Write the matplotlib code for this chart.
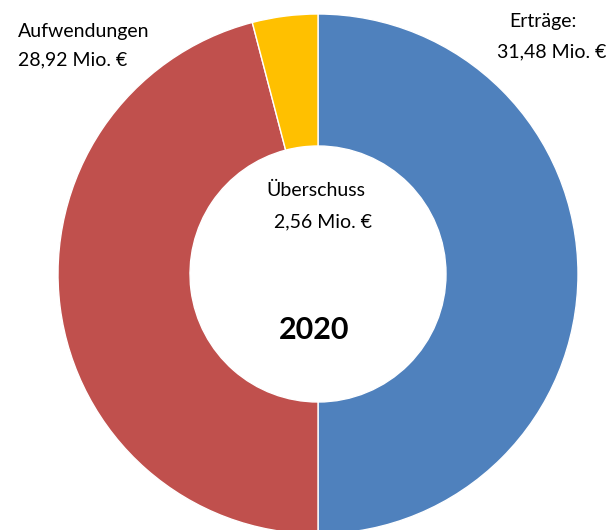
import matplotlib.pyplot as plt

labels = ['Erträge', 'Aufwendungen', 'Überschuss']
werte = [31.48, 28.92, 2.56]
farben = ['#4F81BD', '#C0504D', '#FFC000']

plt.rcParams['font.family'] = ['Lato', 'DejaVu Sans']

fig = plt.figure(figsize=(6.08, 5.30), dpi=100)
ax = fig.add_axes([0, 0, 1, 1])

# Erträge = Aufwendungen + Überschuss, daher eine Hälfte für Erträge
ax.pie(werte, colors=farben, startangle=90, counterclock=False,
       center=(318, 256), radius=260,
       wedgeprops=dict(width=132, edgecolor='white', linewidth=1))
ax.set_xlim(0, 608)
ax.set_ylim(0, 530)
ax.set_aspect('equal')
ax.axis('off')

def fmt(v):
    return ('%.2f' % v).replace('.', ',') + ' Mio. €'

fs = 14
ax.text(18, 530 - 31, 'Aufwendungen', fontsize=fs, va='center', ha='left')
ax.text(18, 530 - 60, fmt(werte[1]), fontsize=fs, va='center', ha='left')
ax.text(543, 530 - 22, 'Erträge:', fontsize=fs, va='center', ha='center')
ax.text(606, 530 - 52, fmt(werte[0]), fontsize=fs, va='center', ha='right')
ax.text(316, 530 - 190, 'Überschuss', fontsize=fs, va='center', ha='center')
ax.text(323, 530 - 222, fmt(werte[2]), fontsize=fs, va='center', ha='center')
ax.text(314, 530 - 330, '2020', fontsize=22, fontweight='bold', va='center', ha='center')

fig.savefig('out.png', dpi=100)
